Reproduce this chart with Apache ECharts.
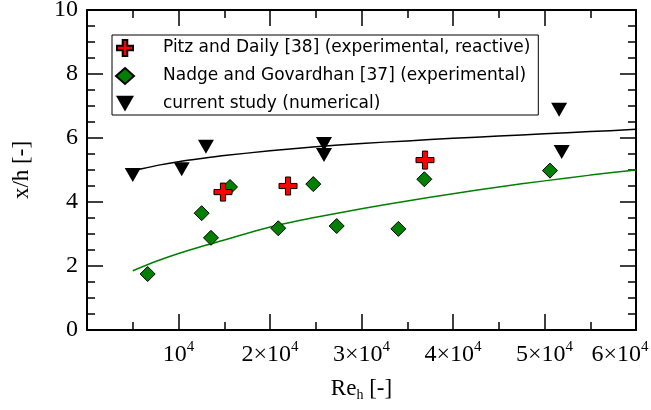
<!DOCTYPE html>
<html>
<head>
<meta charset="utf-8">
<script src="https://cdn.jsdelivr.net/npm/echarts@6/dist/echarts.min.js"></script>
<style>
  html, body { margin: 0; padding: 0; background: #fff; }
  #chart { width: 651px; height: 410px; }
</style>
</head>
<body>
<div id="chart"></div>
<script>
// Reynolds-number tick positions and their labels
const xTicks = [0, 10000, 20000, 30000, 40000, 50000, 60000];
const xTickLabels = ['', '10^4', '2×10^4', '3×10^4', '4×10^4', '5×10^4', '6×10^4'];
const yTicks = [0, 2, 4, 6, 8, 10];

const seriesNames = [
  'Pitz and Daily [38] (experimental, reactive)',
  'Nadge and Govardhan [37] (experimental)',
  'current study (numerical)'
];

// Pitz and Daily, experimental (reactive)
const pitzRe = [14860, 21970, 36940];
const pitzX = [4.31, 4.50, 5.31];

// Nadge and Govardhan, experimental
const nadgeRe = [6630, 12530, 13550, 15630, 20900, 24730, 27290, 34030, 36870, 50600];
const nadgeX = [1.75, 3.65, 2.88, 4.47, 3.18, 4.56, 3.25, 3.16, 4.71, 4.98];

// current study, numerical
const currentRe = [5000, 10350, 13000, 25900, 25900, 51600, 51880];
const currentX = [4.84, 5.02, 5.73, 5.81, 5.47, 6.88, 5.56];

// fitted trend curves
const fitCurrentRe = [5000, 6000, 8000, 10000, 12500, 15000, 20000, 25000, 30000, 35000, 40000, 45000, 50000, 55000, 60000];
const fitCurrentX = [4.97, 5.04, 5.16, 5.26, 5.36, 5.45, 5.60, 5.73, 5.83, 5.91, 5.99, 6.06, 6.13, 6.20, 6.27];
const fitNadgeRe = [5000, 7500, 10000, 12500, 15000, 20000, 25000, 30000, 35000, 40000, 45000, 50000, 55000, 60000];
const fitNadgeX = [1.85, 2.14, 2.39, 2.61, 2.81, 3.22, 3.52, 3.79, 4.03, 4.26, 4.47, 4.66, 4.84, 5.00];

const zip = (a, b) => a.map((v, i) => [v, b[i]]);

const plusPath = 'path://M5,0H9V5H14V9H9V14H5V9H0V5H5Z';
const downTriangle = 'path://M0,0L16,0L8,14Z';
const serif = 'Liberation Serif';
const sans = 'DejaVu Sans';

const tickLabel = (value) => {
  const i = xTicks.indexOf(value);
  if (i < 0 || !xTickLabels[i]) return '';
  const parts = xTickLabels[i].split('^');
  let s = '{m|' + parts[0] + '}{sup|' + parts[1] + '}';
  if (i === xTicks.length - 1) s += '{gap|}';
  return s;
};

const frameAxis = {
  min: 0,
  axisLine: { show: true, onZero: false, lineStyle: { color: '#000', width: 2 } },
  axisTick: { show: true, inside: true, length: 16, lineStyle: { color: '#000', width: 1.5 } },
  minorTick: { show: true, length: 8, lineStyle: { color: '#000', width: 1.5 } },
  splitLine: { show: false },
  minorSplitLine: { show: false }
};

const chart = echarts.init(document.getElementById('chart'), null, { renderer: 'canvas' });
chart.setOption({
  animation: false,
  backgroundColor: '#fff',
  grid: { left: 87, right: 15, top: 10, bottom: 80, containLabel: false, outerBoundsMode: 'none' },
  xAxis: [
    Object.assign({}, frameAxis, {
      type: 'value', position: 'bottom', max: 60000, interval: 10000,
      minorTick: Object.assign({}, frameAxis.minorTick, { splitNumber: 2 }),
      axisLabel: {
        show: true, margin: 10, formatter: tickLabel, showMinLabel: true, showMaxLabel: true,
        rich: {
          m: { fontFamily: serif, fontSize: 24, lineHeight: 30, color: '#000' },
          sup: { fontFamily: serif, fontSize: 15, lineHeight: 12, verticalAlign: 'top', color: '#000' },
          gap: { width: 32 }
        }
      },
      name: 'Re{sub|h} [-]',
      nameLocation: 'middle',
      nameGap: 46,
      nameTextStyle: {
        fontFamily: serif, fontSize: 23, color: '#000', lineHeight: 26,
        rich: { sub: { fontFamily: serif, fontSize: 14, lineHeight: 26, verticalAlign: 'bottom', color: '#000' } }
      }
    }),
    Object.assign({}, frameAxis, {
      type: 'value', position: 'top', max: 60000, interval: 10000,
      minorTick: Object.assign({}, frameAxis.minorTick, { splitNumber: 2 }),
      axisLabel: { show: false }
    })
  ],
  yAxis: [
    Object.assign({}, frameAxis, {
      type: 'value', position: 'left', max: 10, interval: 2,
      minorTick: Object.assign({}, frameAxis.minorTick, { splitNumber: 4 }),
      axisLabel: { show: true, margin: 9, fontFamily: serif, fontSize: 24, color: '#000' },
      name: 'x/h [-]',
      nameLocation: 'middle',
      nameGap: 54,
      nameTextStyle: { fontFamily: serif, fontSize: 23, color: '#000' }
    }),
    Object.assign({}, frameAxis, {
      type: 'value', position: 'right', max: 10, interval: 2,
      minorTick: Object.assign({}, frameAxis.minorTick, { splitNumber: 4 }),
      axisLabel: { show: false }
    })
  ],
  legend: {
    orient: 'vertical', left: 112, top: 35,
    data: seriesNames,
    itemWidth: 18, itemHeight: 16, itemGap: 10,
    padding: [4, 8, 3, 3],
    backgroundColor: '#fff', borderColor: '#000', borderWidth: 1, borderRadius: 0,
    textStyle: { fontFamily: sans, fontSize: 17, color: '#000', lineHeight: 16, padding: [0, 0, 0, 24] }
  },
  series: [
    {
      type: 'line', data: zip(fitCurrentRe, fitCurrentX), smooth: 0.3, showSymbol: false, silent: true,
      lineStyle: { color: '#000', width: 1.5 }, z: 1
    },
    {
      type: 'line', data: zip(fitNadgeRe, fitNadgeX), smooth: 0.3, showSymbol: false, silent: true,
      lineStyle: { color: '#008000', width: 1.5 }, z: 1
    },
    {
      name: seriesNames[1], type: 'scatter', data: zip(nadgeRe, nadgeX),
      symbol: 'diamond', symbolSize: [15, 15],
      itemStyle: { color: '#008000', borderColor: '#000', borderWidth: 1, opacity: 1 }, z: 3
    },
    {
      name: seriesNames[0], type: 'scatter', data: zip(pitzRe, pitzX),
      symbol: plusPath, symbolSize: [18, 18],
      itemStyle: { color: '#ff0000', borderColor: '#000', borderWidth: 1, opacity: 1 }, z: 4
    },
    {
      name: seriesNames[2], type: 'scatter', data: zip(currentRe, currentX),
      symbol: downTriangle, symbolSize: [16, 14],
      itemStyle: { color: '#000', opacity: 1 }, z: 5
    }
  ]
});
</script>
</body>
</html>
